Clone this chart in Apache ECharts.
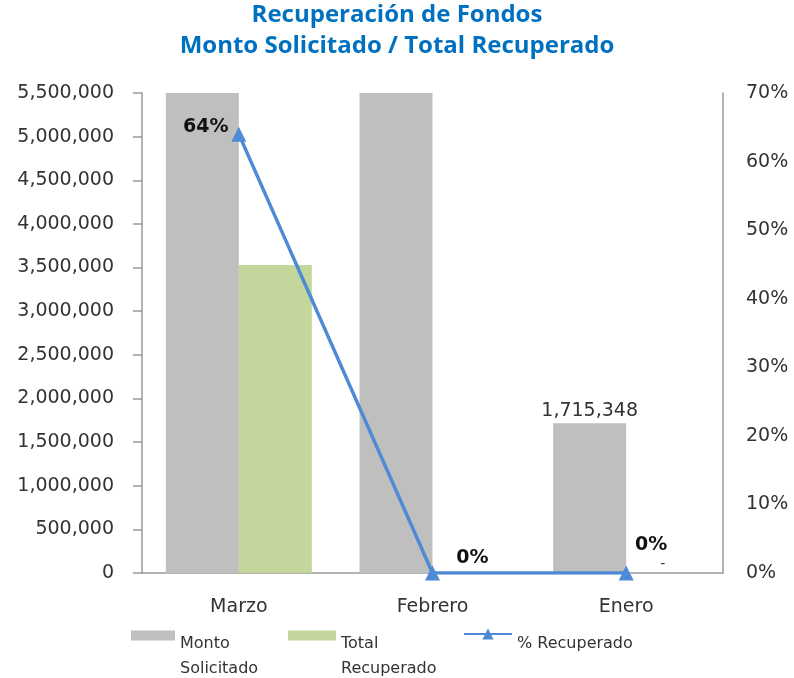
<!DOCTYPE html>
<html>
<head>
<meta charset="utf-8">
<script src="https://cdn.jsdelivr.net/npm/echarts@6/dist/echarts.min.js"></script>
<style>
  html, body { margin: 0; padding: 0; background: #fff; }
  #main { width: 794px; height: 678px; }
</style>
</head>
<body>
<div id="main"></div>
<script>
// datos del grafico
var meses = ['Marzo', 'Febrero', 'Enero'];
var montoSolicitado = [5520000, 5600000, 1715348];
var totalRecuperado = [3530000, null, 0];
var pctRecuperado = [0.64, 0, 0];
var maxMonto = 5500000;
var maxPct = 0.7;

var fuente = 'DejaVu Sans';
var myChart = echarts.init(document.getElementById('main'));

function miles(v) {
    return Number(v).toLocaleString('en-US');
}

// etiquetas de % (posiciones como en el original)
var pctOffsets = [[-33, -7], [40, -15], [25, -28]];

// texto de leyenda un poco mas abajo que el icono
var legendRich = {
    s: { fontSize: 1, lineHeight: 41 },
    s2: { fontSize: 1, lineHeight: 20 },
    a: { fontFamily: fuente, fontSize: 16, color: '#333', lineHeight: 25 }
};

var option = {
    animation: false,
    title: {
        text: 'Recuperación de Fondos\nMonto Solicitado / Total Recuperado',
        left: 'center',
        top: 0,
        padding: 0,
        textStyle: {
            fontFamily: "'Open Sans'",
            fontWeight: 'bold',
            fontSize: 24,
            lineHeight: 31,
            color: '#0070C0'
        }
    },
    grid: { left: 142, right: 71, top: 93, bottom: 105 },
    legend: [
        {
            data: [{ name: 'Monto Solicitado', icon: 'rect' }],
            left: 131, top: 610, padding: 0,
            itemWidth: 44, itemHeight: 10,
            formatter: function () { return '{s| }\n{a|Monto}\n{a|Solicitado}'; },
            textStyle: { rich: legendRich }
        },
        {
            data: [{ name: 'Total Recuperado', icon: 'rect' }],
            left: 288, top: 610, padding: 0,
            itemWidth: 48, itemHeight: 10,
            formatter: function () { return '{s| }\n{a|Total}\n{a|Recuperado}'; },
            textStyle: { rich: legendRich }
        },
        {
            data: ['% Recuperado'],
            left: 463, top: 621, padding: 0,
            itemWidth: 48, itemHeight: 14,
            formatter: function (n) { return '{s2| }\n{a|' + n + '}'; },
            textStyle: { rich: legendRich }
        }
    ],
    xAxis: {
        type: 'category',
        data: meses,
        axisLine: { lineStyle: { color: '#9a9a9a', width: 1.5 } },
        axisTick: { show: false },
        axisLabel: { margin: 25, fontFamily: fuente, fontSize: 19, color: '#333' }
    },
    yAxis: [
        {
            type: 'value',
            min: 0, max: maxMonto, interval: 500000,
            axisLine: { show: true, lineStyle: { color: '#9a9a9a', width: 1.5 } },
            axisTick: { show: true, length: 9, lineStyle: { color: '#9a9a9a', width: 1.5 } },
            splitLine: { show: false },
            axisLabel: { margin: 28, fontFamily: fuente, fontSize: 19, color: '#333', formatter: miles }
        },
        {
            type: 'value',
            min: 0, max: maxPct, interval: 0.1,
            axisLine: { show: true, lineStyle: { color: '#9a9a9a', width: 1.5 } },
            axisTick: { show: false },
            splitLine: { show: false },
            axisLabel: {
                margin: 23, fontFamily: fuente, fontSize: 19, color: '#333',
                formatter: function (v) { return Math.round(v * 100) + '%'; }
            }
        }
    ],
    series: [
        {
            name: 'Monto Solicitado',
            type: 'bar',
            barWidth: 73,
            barGap: '0%',
            itemStyle: { color: '#BFBFBF' },
            data: montoSolicitado.map(function (v) {
                return {
                    value: v,
                    label: { show: v <= maxMonto }
                };
            }),
            label: {
                position: 'top', distance: 3,
                fontFamily: fuente, fontSize: 19, color: '#333',
                formatter: function (p) { return miles(p.value); }
            }
        },
        {
            name: 'Total Recuperado',
            type: 'bar',
            barWidth: 73,
            itemStyle: { color: '#C3D69B' },
            data: totalRecuperado.map(function (v) {
                return { value: v, label: { show: v === 0 } };
            }),
            label: {
                position: 'top', distance: 2,
                fontFamily: fuente, fontSize: 14, color: '#333',
                formatter: '-'
            }
        },
        {
            name: '% Recuperado',
            type: 'line',
            yAxisIndex: 1,
            symbol: 'triangle',
            symbolSize: 15,
            lineStyle: { color: '#4F8AD6', width: 3.5 },
            itemStyle: { color: '#4F8AD6' },
            data: pctRecuperado.map(function (v, i) {
                return { value: v, label: { offset: pctOffsets[i] } };
            }),
            label: {
                show: true, position: 'inside',
                fontFamily: fuente, fontSize: 19, fontWeight: 'bold', color: '#111',
                formatter: function (p) { return Math.round(p.value * 100) + '%'; }
            }
        }
    ]
};

myChart.setOption(option);
</script>
</body>
</html>
